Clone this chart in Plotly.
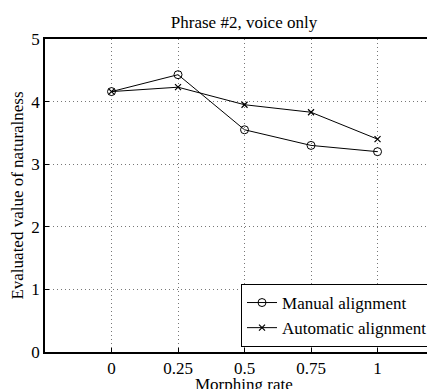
import plotly.graph_objects as go

morphing_rate = [0, 0.25, 0.5, 0.75, 1]
manual = [4.16, 4.43, 3.55, 3.30, 3.20]
automatic = [4.16, 4.23, 3.95, 3.83, 3.40]
x_ticks = [0, 0.25, 0.5, 0.75, 1]
x_tick_labels = ["0", "0.25", "0.5", "0.75", "1"]
y_ticks = [0, 1, 2, 3, 4, 5]

font = "Liberation Serif, Times New Roman, serif"

fig = go.Figure()
fig.add_trace(go.Scatter(
    x=morphing_rate, y=manual, mode="lines+markers", name="Manual alignment",
    line=dict(color="black", width=1),
    marker=dict(symbol="circle-open", size=8, color="black", line=dict(width=1)),
))
fig.add_trace(go.Scatter(
    x=morphing_rate, y=automatic, mode="lines+markers", name="Automatic alignment",
    line=dict(color="black", width=1),
    marker=dict(symbol="x-thin-open", size=6, color="black", line=dict(width=1.2, color="black")),
))

# page body has an 8px default margin, so the figure is offset by 8px
fig.update_layout(
    width=427, height=381,
    margin=dict(l=37, r=0, t=31, b=37, autoexpand=False),
    paper_bgcolor="white", plot_bgcolor="white",
    font=dict(family=font, size=17, color="black"),
    title=dict(text="Phrase #2, voice only", x=0.5527, xref="container", xanchor="center",
               y=0.964, yref="container", yanchor="middle",
               font=dict(family=font, size=17, color="black")),
    showlegend=True,
    legend=dict(x=0.5026, y=0.016, xanchor="left", yanchor="bottom",
                bgcolor="white", bordercolor="black", borderwidth=1,
                font=dict(family=font, size=17, color="black"),
                tracegroupgap=0, itemwidth=30),
)
fig.add_annotation(text="Morphing rate", xref="paper", yref="paper", x=0.51, y=-0.104,
                   xanchor="center", yanchor="middle", showarrow=False,
                   font=dict(family=font, size=17, color="black"))
fig.update_xaxes(
    range=[-0.25, 1.216], tickvals=x_ticks, ticktext=x_tick_labels,
    showgrid=True, gridcolor="#777", griddash="1px,3px", gridwidth=1,
    showline=True, linecolor="black", linewidth=1.5, mirror=True,
    ticks="inside", ticklen=4, tickcolor="black", zeroline=False,
    automargin=False,
    tickfont=dict(family=font, size=17),
)
fig.update_yaxes(
    range=[0, 5], tickvals=y_ticks,
    showgrid=True, gridcolor="#777", griddash="1px,3px", gridwidth=1,
    showline=True, linecolor="black", linewidth=1.5, mirror=False,
    ticks="inside", ticklen=4, tickcolor="black", zeroline=False,
    automargin=False,
    title=dict(text="Evaluated value of naturalness", standoff=7, font=dict(family=font, size=17)),
    tickfont=dict(family=font, size=17),
)

fig.write_html("out.html")
